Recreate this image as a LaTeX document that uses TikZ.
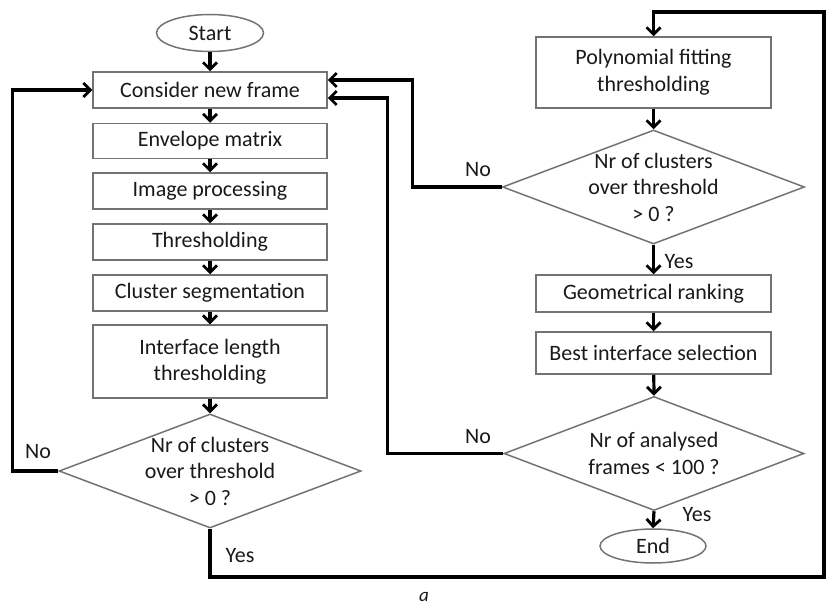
\documentclass[tikz,border=0pt]{standalone}
\usepackage{fontspec}
\setmainfont{Carlito}
\usetikzlibrary{shapes.geometric,arrows.meta}
\begin{document}
\begin{tikzpicture}[x=1pt,y=-1pt,
  txt/.style={font=\fontsize{22}{26.5}\selectfont, text=black!90},
  box/.style={txt, draw=black!55, line width=1.5pt, rectangle, minimum width=234pt, align=center, inner sep=0pt},
  term/.style={txt, draw=black!55, line width=1.5pt, ellipse, inner sep=0pt},
  dia/.style={draw=black!55, line width=1.5pt, diamond, minimum width=302pt, minimum height=114pt, inner sep=0pt},
  arr/.style={line width=3.2pt, -{Straight Barb[length=7pt,width=14pt,line width=2.8pt]}},
  lab/.style={txt, inner sep=0pt}
]
\useasboundingbox (0,0) rectangle (826,607);
% left column
\node[term, minimum width=107pt, minimum height=37pt] (start) at (210,33) {Start};
\node[box, minimum height=36pt] (cnf) at (210,90) {Consider new frame};
\node[box, minimum height=35pt] (env) at (210,141) {Envelope matrix};
\node[box, minimum height=36pt] (imp) at (210,191) {Image processing};
\node[box, minimum height=36pt] (thr) at (210,242) {Thresholding};
\node[box, minimum height=36pt] (cs) at (210,293) {Cluster segmentation};
\node[box, minimum height=73pt] (ilt) at (210,361.5) {Interface length\\thresholding};
\node[dia, label={[txt, align=center]center:Nr of clusters\\over threshold\\> 0 ?}] (d1) at (210,471) {};
% right column
\node[box, minimum width=235pt, minimum height=71pt] (poly) at (653.5,72.5) {Polynomial fitting\\thresholding};
\node[dia, label={[txt, align=center]center:Nr of clusters\\over threshold\\> 0 ?}] (d2) at (653.5,187) {};
\node[box, minimum width=235pt, minimum height=37pt] (geo) at (653.5,293.5) {Geometrical ranking};
\node[box, minimum width=235pt, minimum height=42pt] (bis) at (653.5,353) {Best interface selection};
\node[dia, minimum width=300pt, label={[txt, align=center]center:Nr of analysed\\frames < 100 ?}] (d3) at (654,453.5) {};
\node[term, minimum width=106pt, minimum height=34pt] (end) at (653,546) {End};
% coordinates
\coordinate (c1) at (824,577);
\coordinate (c2) at (824,12);
% main flow
\draw[arr] (start) -- (cnf);
\draw[arr] (cnf) -- (env);
\draw[arr] (env) -- (imp);
\draw[arr] (imp) -- (thr);
\draw[arr] (thr) -- (cs);
\draw[arr] (cs) -- (ilt);
\draw[arr] (ilt) -- (d1.north);
\draw[arr] (d1.west) -- ++(-46,0) |- (cnf.west);
\draw[arr] (d1.south) |- (c1) -- (c2) -| (poly.north);
\draw[arr] (poly) -- (d2.north);
\draw[arr] (d2.west) -- ++(-89,0) |- ([yshift=10pt]cnf.east);
\draw[arr] (d2.south) -- (geo.north);
\draw[arr] (geo) -- (bis);
\draw[arr] (bis) -- (d3.north);
\draw[arr] (d3.south) -- (end.north);
\draw[arr] (d3.west) -- ++(-116,0) |- ([yshift=-8pt]cnf.east);
% labels
\node[lab] (no1) at (38,452) {No};
\node[lab] (yes1) at (240,556) {Yes};
\node[lab] (no2) at (478,170) {No};
\node[lab] (yes2) at (679,262) {Yes};
\node[lab] (no3) at (478,437) {No};
\node[lab] (yes3) at (697,515) {Yes};
\node[lab, font=\fontsize{19}{22}\selectfont\itshape] (cap) at (424,597) {a};
\end{tikzpicture}
\end{document}
